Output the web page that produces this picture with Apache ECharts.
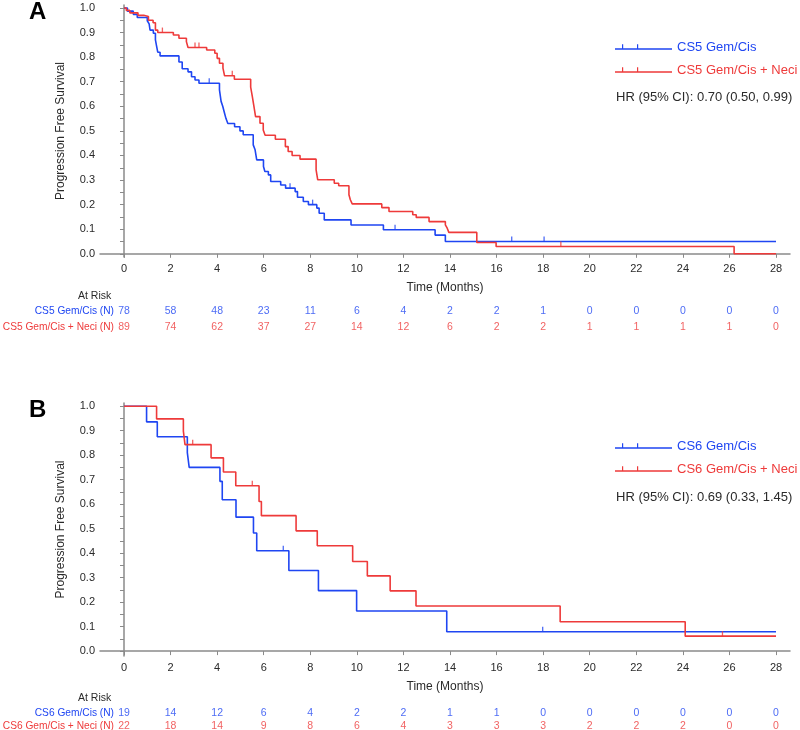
<!DOCTYPE html>
<html><head><meta charset="utf-8">
<script src="https://cdn.jsdelivr.net/npm/echarts@6/dist/echarts.min.js"></script>
<style>html,body{margin:0;padding:0;background:#fff}#c{width:800px;height:730px}</style>
</head><body><div id="c"></div>
<script>
// ---------- data ----------
const xTickValues = [0, 2, 4, 6, 8, 10, 12, 14, 16, 18, 20, 22, 24, 26, 28];
const yLabelValues = [0, 0.1, 0.2, 0.3, 0.4, 0.5, 0.6, 0.7, 0.8, 0.9, 1.0];
const yTickValues = [0, 0.05, 0.1, 0.15, 0.2, 0.25, 0.3, 0.35, 0.4, 0.45, 0.5, 0.55, 0.6, 0.65, 0.7, 0.75, 0.8, 0.85, 0.9, 0.95, 1.0];
const riskTimes = [0, 2, 4, 6, 8, 10, 12, 14, 16, 18, 20, 22, 24, 26, 28];

// Panel A
const A_blueName = 'CS5 Gem/Cis';
const A_redName = 'CS5 Gem/Cis + Neci';
const A_blueT = [0, 0.15, 0.4, 0.57, 1.0, 1.08, 1.12, 1.26, 1.35, 1.40, 1.45, 1.55, 2.36, 2.5, 2.75, 2.9, 3.05, 3.22, 4.1, 4.17, 4.24, 4.31, 4.38, 4.46, 4.75, 4.98, 5.12, 5.55, 5.63, 5.7, 5.99, 6.05, 6.2, 6.3, 6.73, 6.94, 7.35, 7.45, 7.7, 7.92, 8.28, 8.38, 8.6, 9.75, 11.14, 13.36, 13.8, 28];
const A_blueS = [1.0, 0.987, 0.974, 0.961, 0.948, 0.935, 0.91, 0.897, 0.87, 0.845, 0.82, 0.805, 0.78, 0.753, 0.74, 0.72, 0.707, 0.694, 0.667, 0.62, 0.6, 0.575, 0.55, 0.53, 0.517, 0.5, 0.484, 0.443, 0.423, 0.382, 0.355, 0.335, 0.321, 0.294, 0.28, 0.267, 0.253, 0.23, 0.213, 0.2, 0.186, 0.165, 0.138, 0.117, 0.098, 0.076, 0.05, 0.05];
const A_redT = [0, 0.1, 0.25, 0.6, 0.85, 1.05, 1.25, 1.35, 1.45, 2.12, 2.36, 2.68, 2.75, 3.55, 3.9, 4.0, 4.1, 4.25, 4.32, 4.74, 5.44, 5.51, 5.58, 5.65, 5.84, 5.98, 6.06, 6.5, 6.93, 7.05, 7.22, 7.56, 8.25, 8.32, 9.03, 9.22, 9.66, 9.72, 9.8, 11.07, 11.38, 12.4, 12.55, 13.1, 13.8, 13.88, 13.95, 15.15, 15.98, 26.2, 28];
const A_redS = [1.0, 0.99, 0.98, 0.97, 0.965, 0.95, 0.94, 0.91, 0.90, 0.89, 0.877, 0.863, 0.839, 0.829, 0.816, 0.795, 0.775, 0.755, 0.724, 0.71, 0.678, 0.64, 0.6, 0.558, 0.531, 0.504, 0.482, 0.466, 0.436, 0.416, 0.40, 0.385, 0.341, 0.301, 0.287, 0.277, 0.24, 0.22, 0.203, 0.188, 0.172, 0.159, 0.148, 0.131, 0.118, 0.104, 0.087, 0.046, 0.03, 0.0, 0.0];
const A_blueCensT = [3.66, 7.13, 8.1, 11.64, 16.65, 18.04];
const A_blueCensS = [0.694, 0.267, 0.2, 0.098, 0.05, 0.05];
const A_redCensT = [1.65, 3.05, 3.22, 4.65, 18.76];
const A_redCensS = [0.90, 0.839, 0.839, 0.724, 0.03];
const A_blueRisk = [78, 58, 48, 23, 11, 6, 4, 2, 2, 1, 0, 0, 0, 0, 0];
const A_redRisk = [89, 74, 62, 37, 27, 14, 12, 6, 2, 2, 1, 1, 1, 1, 0];
const A_hr = 'HR (95% CI): 0.70 (0.50, 0.99)';

// Panel B
const B_blueName = 'CS6 Gem/Cis';
const B_redName = 'CS6 Gem/Cis + Neci';
const B_blueT = [0, 0.97, 1.43, 2.72, 2.8, 4.12, 4.22, 4.81, 5.56, 5.7, 7.08, 8.35, 9.99, 13.86, 28];
const B_blueS = [1.0, 0.936, 0.875, 0.81, 0.75, 0.693, 0.618, 0.547, 0.482, 0.41, 0.329, 0.247, 0.164, 0.079, 0.079];
const B_redT = [0, 1.4, 2.55, 2.62, 3.74, 4.27, 4.8, 5.8, 5.9, 7.39, 8.3, 9.82, 10.45, 11.43, 12.54, 18.73, 24.1, 28];
const B_redS = [1.0, 0.948, 0.898, 0.843, 0.789, 0.731, 0.675, 0.611, 0.553, 0.491, 0.43, 0.366, 0.307, 0.246, 0.184, 0.12, 0.061, 0.061];
const B_blueCensT = [6.84, 17.98];
const B_blueCensS = [0.41, 0.079];
const B_redCensT = [2.95, 5.51, 25.7];
const B_redCensS = [0.843, 0.675, 0.061];
const B_blueRisk = [19, 14, 12, 6, 4, 2, 2, 1, 1, 0, 0, 0, 0, 0, 0];
const B_redRisk = [22, 18, 14, 9, 8, 6, 4, 3, 3, 3, 2, 2, 2, 0, 0];
const B_hr = 'HR (95% CI): 0.69 (0.33, 1.45)';

// ---------- style ----------
const BLUE = '#1f46f2';
const RED = '#ee3a3a';
const FONT = 'Liberation Sans, Arial, sans-serif';
const AXIS = '#8a8a8a';
const TXT = '#2a2a2a';
const LEG_ICON = 'path://M0,6L57,6L57,7.6L0,7.6Z M7,2L8.2,2L8.2,6L7,6Z M22,2L23.2,2L23.2,6L22,6Z';

const zip = (a, b) => a.map((v, i) => [v, b[i]]);

function plotX(gi) {
  return {
    type: 'value', gridIndex: gi, min: -1.03, max: 28.6,
    name: 'Time (Months)', nameLocation: 'middle', nameGap: 25,
    nameTextStyle: { fontFamily: FONT, fontSize: 12, color: TXT },
    axisLine: { show: true, lineStyle: { color: AXIS, width: 1.5 } },
    axisTick: { show: true, length: 4, customValues: xTickValues, lineStyle: { color: AXIS, width: 1 } },
    axisLabel: { customValues: xTickValues, margin: 6, fontFamily: FONT, fontSize: 11, color: TXT },
    splitLine: { show: false }
  };
}
function plotY(gi, min, max) {
  return {
    type: 'value', gridIndex: gi, min: min, max: max,
    name: 'Progression Free Survival', nameLocation: 'middle', nameGap: 33, nameRotate: 90,
    nameTextStyle: { fontFamily: FONT, fontSize: 12, color: TXT },
    axisLine: { show: true, lineStyle: { color: AXIS, width: 1.5 } },
    axisTick: { show: true, length: 4, customValues: yTickValues, lineStyle: { color: AXIS, width: 1 } },
    axisLabel: { customValues: yLabelValues, margin: 5, fontFamily: FONT, fontSize: 11, color: TXT,
      formatter: v => v.toFixed(1) },
    splitLine: { show: false }
  };
}
function tableX(gi) {
  return { type: 'value', gridIndex: gi, min: -1.03, max: 28.6, show: false };
}
function tableY(gi, labels) {
  return {
    type: 'category', gridIndex: gi, data: labels, inverse: true,
    axisLine: { show: false }, axisTick: { show: false }, splitLine: { show: false },
    axisLabel: { interval: 0, margin: -14, fontFamily: FONT, fontSize: 10.2,
      color: (v, i) => (i === 0 ? BLUE : RED) }
  };
}
function km(name, t, s, color, xi) {
  return { name: name, type: 'line', step: 'end', xAxisIndex: xi, yAxisIndex: xi,
    data: zip(t, s), symbol: 'none', color: color,
    lineStyle: { color: color, width: 1.6 }, itemStyle: { color: color },
    animation: false, z: 3 };
}
function cens(t, s, color, xi) {
  return { type: 'scatter', xAxisIndex: xi, yAxisIndex: xi, data: zip(t, s),
    symbol: 'rect', symbolSize: [1.3, 5], symbolOffset: [0, -2.5],
    itemStyle: { color: color }, silent: true, animation: false, z: 4 };
}
function risk(times, vals, rowName, color, xi) {
  return { type: 'scatter', xAxisIndex: xi, yAxisIndex: xi,
    data: times.map((t, i) => [t, rowName, vals[i]]),
    symbolSize: 1, itemStyle: { color: 'rgba(0,0,0,0)' }, silent: true, animation: false,
    label: { show: true, position: 'inside', formatter: p => String(p.value[2]),
      fontFamily: FONT, fontSize: 10.5, color: color } };
}

const A_rows = [A_blueName + ' (N)', A_redName + ' (N)'];
const B_rows = [B_blueName + ' (N)', B_redName + ' (N)'];

function legend(names, top) {
  return {
    data: [{ name: names[0], textStyle: { color: BLUE } }, { name: names[1], textStyle: { color: RED } }],
    orient: 'vertical', left: 615, top: top, itemWidth: 57, itemHeight: 5.6, itemGap: 7,
    icon: LEG_ICON, selectedMode: false, padding: 0,
    textStyle: { fontFamily: FONT, fontSize: 13, lineHeight: 16 }
  };
}
function txt(text, left, top, size, bold) {
  return { text: text, left: left, top: top, padding: 0,
    textStyle: { fontFamily: FONT, fontSize: size, fontWeight: bold ? 'bold' : 'normal', color: bold ? '#000' : TXT } };
}
function grid(top, height) {
  return { left: 100, top: top, width: 690, height: height, containLabel: false, outerBoundsMode: 'none' };
}

const option = {
  backgroundColor: '#fff',
  animation: false,
  title: [
    txt('A', 29, 0, 24, true),
    txt('B', 29, 398, 24, true),
    txt(A_hr, 616, 91, 13, false),
    txt(B_hr, 616, 491, 13, false),
    txt('At Risk', 78, 291, 10.5, false),
    txt('At Risk', 78, 693, 10.5, false)
  ],
  legend: [legend([A_blueName, A_redName], 39), legend([B_blueName, B_redName], 438)],
  grid: [grid(5, 252), grid(303, 32), grid(403, 253), grid(707, 26)],
  xAxis: [plotX(0), tableX(1), plotX(2), tableX(3)],
  yAxis: [plotY(0, -0.013, 1.012), tableY(1, A_rows), plotY(2, -0.02, 1.013), tableY(3, B_rows)],
  series: [
    km(A_blueName, A_blueT, A_blueS, BLUE, 0),
    km(A_redName, A_redT, A_redS, RED, 0),
    cens(A_blueCensT, A_blueCensS, BLUE, 0),
    cens(A_redCensT, A_redCensS, RED, 0),
    risk(riskTimes, A_blueRisk, A_rows[0], BLUE, 1),
    risk(riskTimes, A_redRisk, A_rows[1], RED, 1),
    km(B_blueName, B_blueT, B_blueS, BLUE, 2),
    km(B_redName, B_redT, B_redS, RED, 2),
    cens(B_blueCensT, B_blueCensS, BLUE, 2),
    cens(B_redCensT, B_redCensS, RED, 2),
    risk(riskTimes, B_blueRisk, B_rows[0], BLUE, 3),
    risk(riskTimes, B_redRisk, B_rows[1], RED, 3)
  ]
};
const chart = echarts.init(document.getElementById('c'), null, { renderer: 'canvas' });
chart.setOption(option);
</script>
</body></html>
